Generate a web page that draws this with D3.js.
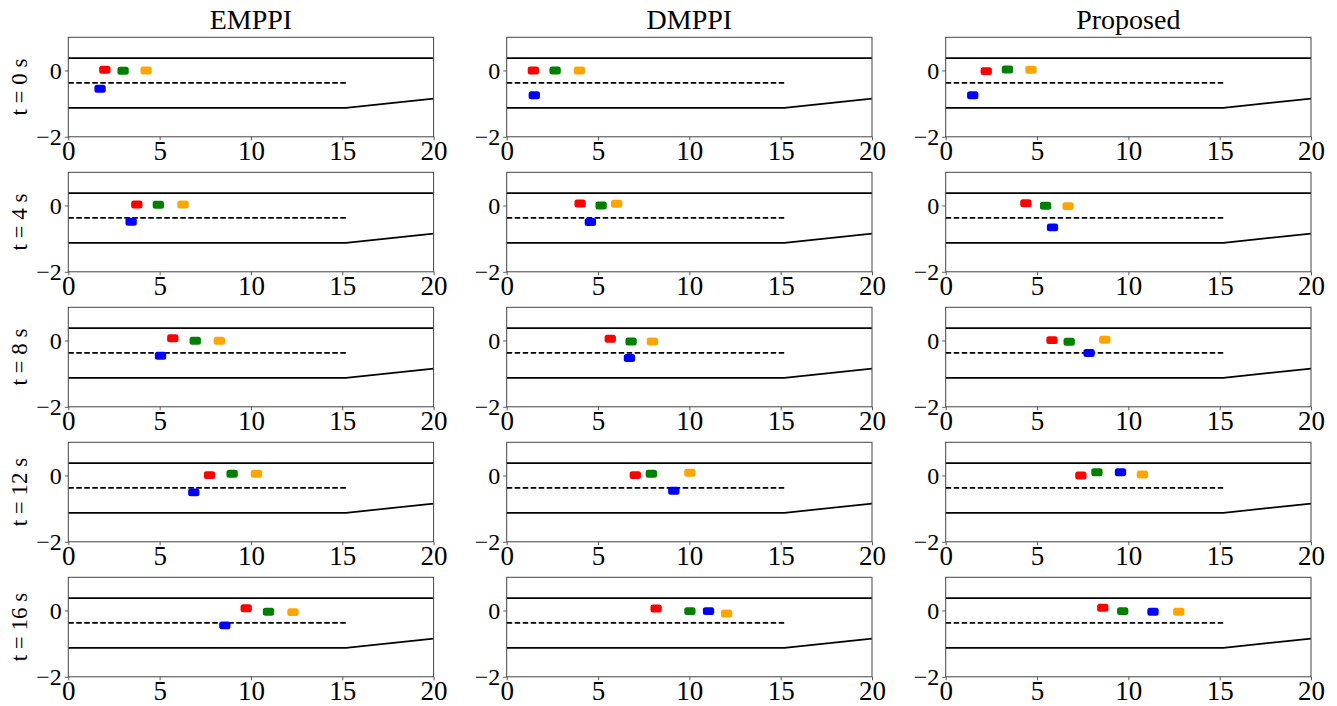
<!DOCTYPE html>
<html><head><meta charset="utf-8">
<script src="https://cdn.jsdelivr.net/npm/d3@7"></script>
<style>body{margin:0;background:#fff}svg{display:block}text{font-family:"Liberation Serif","Times New Roman",serif}</style>
</head><body>
<script>
const methods = ["EMPPI", "DMPPI", "Proposed"];
const times = [0, 4, 8, 12, 16];
const xTicks = [0, 5, 10, 15, 20];
const yTicks = [0, -2];
const vehicleNames = ["red", "green", "orange", "blue"];
const vehicleColors = ["#ff0000", "#008000", "#ffa500", "#0000ff"];
// road geometry (data units)
const upperEdge = [[0, 0.375], [20, 0.375]];
const lowerEdge = [[0, -1.125], [15.2, -1.125], [20, -0.85]];
const centerLine = [[0, -0.375], [15.2, -0.375]];
// positions [method][time]
const redX = [[2.0, 3.75, 5.72, 7.73, 9.74], [1.46, 4.02, 5.67, 7.04, 8.18], [2.22, 4.39, 5.82, 7.4, 8.6]];
const redY = [[0.02, 0.03, 0.07, 0.01, 0.07], [0.0, 0.06, 0.05, 0.01, 0.06], [-0.02, 0.07, 0.01, 0.0, 0.08]];
const greenX = [[3.0, 4.93, 6.95, 8.97, 10.96], [2.65, 5.17, 6.81, 7.92, 10.03], [3.38, 5.47, 6.76, 8.28, 9.69]];
const greenY = [[-0.01, 0.02, -0.01, 0.05, -0.04], [0.0, 0.0, -0.03, 0.05, -0.02], [0.03, -0.01, -0.04, 0.1, -0.02]];
const orangeX = [[4.26, 6.28, 8.27, 10.3, 12.3], [3.98, 6.02, 7.98, 10.03, 12.04], [4.67, 6.7, 8.71, 10.77, 12.76]];
const orangeY = [[0.0, 0.03, -0.01, 0.05, -0.05], [0.0, 0.05, -0.03, 0.08, -0.09], [0.02, -0.02, 0.02, 0.03, -0.04]];
const blueX = [[1.74, 3.44, 5.05, 6.87, 8.57], [1.51, 4.58, 6.72, 9.15, 11.05], [1.48, 5.85, 7.85, 9.57, 11.35]];
const blueY = [[-0.55, -0.49, -0.46, -0.51, -0.45], [-0.75, -0.5, -0.53, -0.46, -0.02], [-0.75, -0.66, -0.38, 0.1, -0.04]];
const vehW = 0.62, vehH = 0.24;

const W = 1337, H = 706;
const svg = d3.select("body").append("svg").attr("width", W).attr("height", H);
const colLeft = [68.3, 506.7, 945.7], pw = 365.3;
const rowTop0 = 37.3, rowStep = 135, ph = 99.5;
const allX = [redX, greenX, orangeX, blueX], allY = [redY, greenY, orangeY, blueY];

methods.forEach((m, c) => {
  times.forEach((t, r) => {
    const x0 = colLeft[c], y0 = rowTop0 + r * rowStep;
    const x = d3.scaleLinear().domain([0, 20]).range([x0, x0 + pw]);
    const y = d3.scaleLinear().domain([-2, 1]).range([y0 + ph, y0]);
    const g = svg.append("g");
    const line = d3.line().x(d => x(d[0])).y(d => y(d[1]));
    g.append("path").attr("d", line(upperEdge)).attr("fill", "none").attr("stroke", "#000").attr("stroke-width", 1.7);
    g.append("path").attr("d", line(lowerEdge)).attr("fill", "none").attr("stroke", "#000").attr("stroke-width", 1.7);
    g.append("path").attr("d", line(centerLine)).attr("fill", "none").attr("stroke", "#000").attr("stroke-width", 1.6).attr("stroke-dasharray", "5.5,2.5");
    vehicleNames.forEach((v, i) => {
      const vx = allX[i][c][r], vy = allY[i][c][r];
      g.append("rect")
        .attr("x", x(vx - vehW / 2)).attr("y", y(vy + vehH / 2))
        .attr("width", x(vx + vehW / 2) - x(vx - vehW / 2))
        .attr("height", y(vy - vehH / 2) - y(vy + vehH / 2))
        .attr("rx", 2.5).attr("fill", vehicleColors[i]);
    });
    const xa = g.append("g").attr("transform", `translate(0,${y0 + ph})`)
      .call(d3.axisBottom(x).tickValues(xTicks).tickSize(3.5).tickPadding(1).tickFormat(d3.format("d")));
    const ya = g.append("g").attr("transform", `translate(${x0},0)`)
      .call(d3.axisLeft(y).tickValues(yTicks).tickSize(3.5).tickPadding(3).tickFormat(d => d < 0 ? "\u2212" + Math.abs(d) : d));
    [xa, ya].forEach(a => { a.select(".domain").remove(); a.selectAll("line").attr("stroke", "#333").attr("stroke-width", 0.8); });
    xa.selectAll("text").attr("font-size", 27).attr("fill", "#000");
    ya.selectAll("text").attr("font-size", 24).attr("fill", "#000");
    g.append("rect").attr("x", x0).attr("y", y0).attr("width", pw).attr("height", ph)
      .attr("fill", "none").attr("stroke", "#444").attr("stroke-width", 1);
    if (r === 0) {
      svg.append("text").attr("x", x0 + pw / 2).attr("y", y0 - 8).attr("text-anchor", "middle")
        .attr("font-size", 28).text(m);
    }
    if (c === 0) {
      svg.append("text").attr("transform", `translate(27,${y0 + ph / 2}) rotate(-90)`)
        .attr("text-anchor", "middle").attr("font-size", 23).text(`t = ${t} s`);
    }
  });
});
</script>
</body></html>
